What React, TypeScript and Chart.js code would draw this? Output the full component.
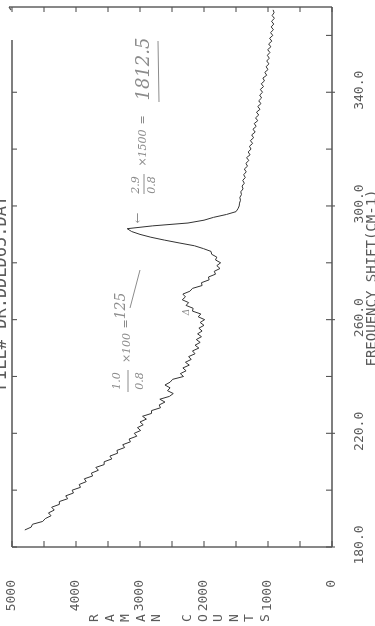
import React, { useEffect, useRef } from 'react';
import { Chart, registerables } from 'chart.js';

Chart.register(...registerables);

// Raman spectrum: frequency shift (cm-1) vs counts
const FREQ = [
  186, 187, 188, 189, 190, 191, 192, 193, 194, 195, 196, 197, 198, 199, 200, 201, 202, 203, 204, 205,
  206, 207, 208, 209, 210, 211, 212, 213, 214, 215, 216, 217, 218, 219, 220, 221, 222, 223, 224, 225,
  226, 227, 228, 229, 230, 231, 232, 233, 234, 235, 236, 237, 238, 239, 240, 241, 242, 243, 244, 245,
  246, 247, 248, 249, 250, 251, 252, 253, 254, 255, 256, 257, 258, 259, 260, 261, 262, 263, 264, 265,
  266, 267, 268, 269, 270, 271, 272, 273, 274, 275, 276, 277, 278, 279, 280, 281, 282, 283, 284, 285,
  286, 287, 288, 289, 290, 291, 292, 293, 294, 295, 296, 297, 298, 299, 300, 301, 302, 303, 304, 305,
  306, 307, 308, 309, 310, 311, 312, 313, 314, 315, 316, 317, 318, 319, 320, 321, 322, 323, 324, 325,
  326, 327, 328, 329, 330, 331, 332, 333, 334, 335, 336, 337, 338, 339, 340, 341, 342, 343, 344, 345,
  346, 347, 348, 349, 350, 351, 352, 353, 354, 355, 356, 357, 358, 359, 360, 361, 362, 363, 364, 365,
  366, 367, 368, 369,
];
const COUNTS = [
  4800, 4700, 4680, 4520, 4480, 4390, 4430, 4340, 4380, 4260, 4260, 4130, 4160, 4040, 4060, 3930, 3950, 3840, 3870, 3740,
  3760, 3650, 3690, 3560, 3560, 3440, 3470, 3350, 3360, 3240, 3270, 3150, 3170, 3050, 3090, 2990, 3040, 2950, 3000, 2900,
  2960, 2820, 2820, 2680, 2700, 2610, 2690, 2540, 2480, 2570, 2530, 2610, 2530, 2490, 2320, 2370, 2280, 2330, 2230, 2290,
  2200, 2240, 2140, 2180, 2080, 2140, 2060, 2120, 2040, 2100, 2030, 2080, 2000, 2060, 1990, 2090, 2050, 2180, 2170, 2280,
  2240, 2340, 2290, 2330, 2220, 2180, 2030, 2040, 1920, 1930, 1820, 1840, 1750, 1800, 1740, 1820, 1800, 1880, 1890, 2010,
  2150, 2390, 2620, 2830, 3000, 3130, 3200, 2800, 2250, 2000, 1850, 1650, 1500, 1470, 1450, 1445, 1430, 1440, 1415, 1425,
  1390, 1405, 1370, 1395, 1355, 1380, 1340, 1370, 1320, 1345, 1300, 1335, 1280, 1310, 1265, 1290, 1240, 1275, 1225, 1255,
  1200, 1235, 1185, 1215, 1160, 1195, 1145, 1180, 1125, 1160, 1110, 1145, 1100, 1130, 1085, 1120, 1070, 1105, 1055, 1080,
  1020, 1050, 1000, 1030, 985, 1020, 980, 1010, 970, 1005, 955, 990, 940, 975, 925, 960, 915, 950, 910, 945,
  900, 935, 905, 920,
];

const FREQ_TICKS = [180, 200, 220, 240, 260, 280, 300, 320, 340, 360];
const FREQ_LABELS = [180, 220, 260, 300, 340];
const COUNT_TICKS = [0, 500, 1000, 1500, 2000, 2500, 3000, 3500, 4000, 4500, 5000];
const COUNT_LABELS = [0, 1000, 2000, 3000, 4000, 5000];

const FILE_TITLE = 'FILE# DR:DDLD65.DAT';
const X_TITLE = 'FREQUENCY SHIFT(CM-1)';
const Y_TITLE = 'RAMAN COUNTS';

const MONO = '"DejaVu Sans Mono", "Liberation Mono", monospace';
const HAND = '"DejaVu Serif", "Liberation Serif", serif';

const zeroPadding = (s: any) => {
  s.paddingTop = 0;
  s.paddingBottom = 0;
  s.paddingLeft = 0;
  s.paddingRight = 0;
};

const framePlugin = {
  id: 'plotterFrame',
  afterDraw(chart: any) {
    const { ctx, chartArea } = chart;
    const { left, right, top, bottom } = chartArea;
    const xs = chart.scales.x;
    const ys = chart.scales.y;
    const line = (x1: number, y1: number, x2: number, y2: number) => {
      ctx.beginPath();
      ctx.moveTo(x1, y1);
      ctx.lineTo(x2, y2);
      ctx.stroke();
    };
    ctx.save();
    ctx.strokeStyle = '#555';
    ctx.lineWidth = 1.4;
    const gapStart = right - 33;
    line(left, bottom, right, bottom);
    line(left, top, left, bottom);
    line(right, top - 3, right, bottom);
    line(left, top, gapStart, top);
    line(right, top - 3, right - 3, top - 1);

    ctx.lineWidth = 1.1;
    FREQ_TICKS.forEach((v) => {
      const p = xs.getPixelForValue(v);
      line(p, bottom, p, bottom - 6);
      if (FREQ_LABELS.includes(v)) line(p, bottom, p, bottom + 3);
      if (p < gapStart) line(p, top, p, top + 5);
    });
    COUNT_TICKS.forEach((c) => {
      const p = ys.getPixelForValue(c);
      line(left, p, left + 6, p);
      line(right, p, right - 5, p);
    });

    // titles
    ctx.fillStyle = '#5a5a5a';
    ctx.textAlign = 'center';
    ctx.textBaseline = 'alphabetic';
    ctx.font = `17px ${MONO}`;
    ctx.fillText(FILE_TITLE, (left + right) / 2 - 16, 6);

    ctx.font = `14px ${MONO}`;
    ctx.textBaseline = 'middle';
    ctx.fillText(X_TITLE, (left + right) / 2 - 1, 372);

    ctx.font = `13px ${MONO}`;
    Y_TITLE.split('').forEach((ch, i) => {
      if (ch !== ' ') ctx.fillText(ch, 8, 95 + i * 15.5);
    });

    // handwritten notes
    ctx.fillStyle = '#8c8c8c';
    ctx.strokeStyle = '#8c8c8c';
    ctx.lineWidth = 1;
    ctx.font = `italic 11px ${HAND}`;
    ctx.fillText('1.0', 245, 117);
    line(234, 128, 256, 128);
    ctx.fillText('0.8', 245, 140);
    ctx.fillText('×100', 278, 127);
    ctx.fillText('=', 302, 126);
    ctx.font = `italic 14px ${HAND}`;
    ctx.fillText('125', 320, 121);
    line(318, 130, 356, 140);
    ctx.font = `italic 9px ${HAND}`;
    ctx.fillText('Δ', 314, 187);

    ctx.font = `italic 13px ${HAND}`;
    ctx.fillText('←', 408, 139);
    ctx.font = `italic 11px ${HAND}`;
    ctx.fillText('2.9', 441, 136);
    line(432, 144, 452, 144);
    ctx.fillText('0.8', 441, 152);
    ctx.fillText('×1500', 478, 143);
    ctx.fillText('=', 506, 143);
    ctx.font = `italic 18px ${HAND}`;
    ctx.fillText('1812.5', 557, 144);
    line(524, 159, 585, 158);
    ctx.restore();
  },
};

export default function App() {
  const ref = useRef<HTMLCanvasElement | null>(null);

  useEffect(() => {
    if (!ref.current) return;
    const chart = new Chart(ref.current, {
      type: 'line',
      data: {
        datasets: [
          {
            data: FREQ.map((f, i) => ({ x: f, y: COUNTS[i] })),
            borderColor: '#333',
            borderWidth: 1,
            pointRadius: 0,
            tension: 0,
            fill: false,
          },
        ],
      },
      options: {
        animation: false,
        responsive: false,
        devicePixelRatio: 1,
        layout: { autoPadding: false, padding: { top: 12, right: 7, left: 0, bottom: 0 } },
        plugins: { legend: { display: false }, tooltip: { enabled: false } },
        scales: {
          x: {
            type: 'linear',
            min: 180,
            max: 370,
            afterBuildTicks: (s: any) => {
              s.ticks = FREQ_TICKS.map((v) => ({ value: v }));
            },
            afterFit: (s: any) => {
              s.height = 43;
              zeroPadding(s);
            },
            grid: { display: false },
            border: { display: false },
            ticks: {
              autoSkip: false,
              maxRotation: 0,
              minRotation: 0,
              padding: 12,
              labelOffset: 2,
              color: '#5a5a5a',
              font: { family: MONO, size: 13 },
              callback: (v: any) => (FREQ_LABELS.includes(Number(v)) ? Number(v).toFixed(1) : ''),
            },
          },
          y: {
            type: 'linear',
            min: 0,
            max: 5000,
            afterBuildTicks: (s: any) => {
              s.ticks = COUNT_TICKS.map((v) => ({ value: v }));
            },
            afterFit: (s: any) => {
              s.width = 79;
              zeroPadding(s);
            },
            grid: { display: false },
            border: { display: false },
            ticks: {
              autoSkip: false,
              padding: 25,
              color: '#5a5a5a',
              font: { family: MONO, size: 13 },
              callback: (v: any) => (COUNT_LABELS.includes(Number(v)) ? String(v) : ''),
            },
          },
        },
      },
      plugins: [framePlugin],
    } as any);
    return () => chart.destroy();
  }, []);

  return (
    <div
      style={{
        position: 'fixed',
        left: 0,
        top: 0,
        width: 375,
        height: 626,
        overflow: 'hidden',
        background: '#fff',
      }}
    >
      <div
        style={{
          position: 'absolute',
          left: 0,
          top: 0,
          width: 626,
          height: 375,
          transformOrigin: '0 0',
          transform: 'translateY(626px) rotate(-90deg)',
        }}
      >
        <canvas ref={ref} width={626} height={375} style={{ display: 'block' }} />
      </div>
    </div>
  );
}
